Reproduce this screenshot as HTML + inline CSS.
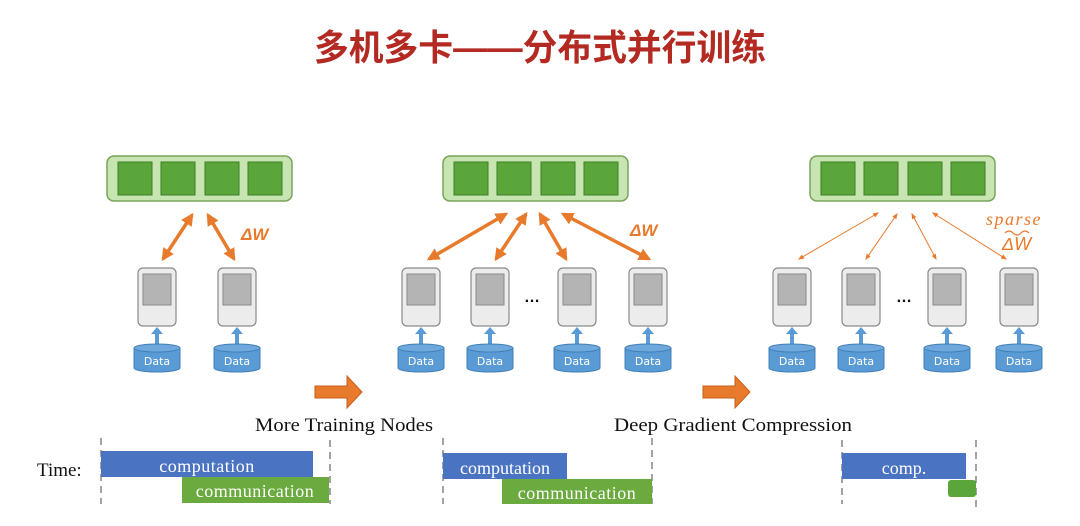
<!DOCTYPE html>
<html><head><meta charset="utf-8"><style>
html,body{margin:0;padding:0;background:#fff;width:1080px;height:526px;overflow:hidden}
svg{display:block}
.d{font-family:"DejaVu Sans","Liberation Sans",sans-serif;font-size:11px;fill:#fff}
.s{font-family:"Liberation Serif",serif;font-size:19px;fill:#111}
.w{font-family:"Liberation Serif",serif;font-size:18px;fill:#fff}
</style></head><body>
<svg width="1080" height="526" viewBox="0 0 1080 526" xmlns="http://www.w3.org/2000/svg">
<defs>
<marker id="ah" viewBox="0 0 10 10" refX="8" refY="5" markerWidth="3.6" markerHeight="3.6" orient="auto-start-reverse"><path d="M0,0L10,5L0,10z" fill="#e87a2c"/></marker>
<marker id="ah2" viewBox="0 0 10 10" refX="8" refY="5" markerWidth="6" markerHeight="6" orient="auto-start-reverse"><path d="M0,1L10,5L0,9z" fill="#e87a2c"/></marker>
<g id="bar">
<rect x="0" y="0" width="185" height="45" rx="7" fill="#c6e5b0" stroke="#7aa35c" stroke-width="1.5"/>
<rect x="11" y="6" width="34" height="33" fill="#5aa63a" stroke="#3e7d27"/>
<rect x="54" y="6" width="34" height="33" fill="#5aa63a" stroke="#3e7d27"/>
<rect x="98" y="6" width="34" height="33" fill="#5aa63a" stroke="#3e7d27"/>
<rect x="141" y="6" width="34" height="33" fill="#5aa63a" stroke="#3e7d27"/>
</g>
<g id="srv">
<rect x="-19" y="0" width="38" height="58" rx="5" fill="#ececec" stroke="#8a8a8a" stroke-width="1.2"/>
<rect x="-14" y="6" width="28" height="31" fill="#b4b4b4" stroke="#8a8a8a"/>
<path d="M0,76V62" stroke="#5b9bd5" stroke-width="4"/>
<path d="M-6,66L0,59L6,66z" fill="#5b9bd5"/>
<path d="M-23,80V100A23,4 0 0 0 23,100V80" fill="#5b9bd5" stroke="#3f7fb8"/>
<ellipse cx="0" cy="80" rx="23" ry="4" fill="#6fa8dc" stroke="#3f7fb8"/>
</g>
</defs>
<text x="540" y="60" text-anchor="middle" font-family="'Liberation Sans','Noto Sans CJK SC',sans-serif" font-weight="bold" font-size="36" fill="#b32a22" textLength="452" lengthAdjust="spacingAndGlyphs">多机多卡——分布式并行训练</text>

<use href="#bar" x="107" y="156"/>
<use href="#bar" x="443" y="156"/>
<use href="#bar" x="810" y="156"/>

<!-- panel1 -->
<use href="#srv" x="157" y="268"/><use href="#srv" x="237" y="268"/>
<text class="d" x="157" y="365" text-anchor="middle">Data</text>
<text class="d" x="237" y="365" text-anchor="middle">Data</text>
<g stroke="#e87a2c" stroke-width="3.5" marker-start="url(#ah)" marker-end="url(#ah)">
<line x1="192" y1="215" x2="163" y2="259"/><line x1="208" y1="215" x2="234" y2="259"/>
</g>
<text x="241" y="240" font-family="'Liberation Sans',sans-serif" font-weight="bold" font-style="italic" font-size="17" fill="#e87a2c">ΔW</text>

<!-- panel2 -->
<use href="#srv" x="421" y="268"/><use href="#srv" x="490" y="268"/><use href="#srv" x="577" y="268"/><use href="#srv" x="648" y="268"/>
<text class="d" x="421" y="365" text-anchor="middle">Data</text>
<text class="d" x="490" y="365" text-anchor="middle">Data</text>
<text class="d" x="577" y="365" text-anchor="middle">Data</text>
<text class="d" x="648" y="365" text-anchor="middle">Data</text>
<text x="532" y="302" text-anchor="middle" font-family="'Liberation Sans',sans-serif" font-weight="bold" font-size="16" fill="#111">…</text>
<g stroke="#e87a2c" stroke-width="3.5" marker-start="url(#ah)" marker-end="url(#ah)">
<line x1="506" y1="214" x2="429" y2="259"/><line x1="526" y1="214" x2="496" y2="259"/>
<line x1="540" y1="214" x2="566" y2="259"/><line x1="563" y1="214" x2="649" y2="259"/>
</g>
<text x="630" y="236" font-family="'Liberation Sans',sans-serif" font-weight="bold" font-style="italic" font-size="17" fill="#e87a2c">ΔW</text>

<!-- panel3 -->
<use href="#srv" x="792" y="268"/><use href="#srv" x="861" y="268"/><use href="#srv" x="947" y="268"/><use href="#srv" x="1019" y="268"/>
<text class="d" x="792" y="365" text-anchor="middle">Data</text>
<text class="d" x="861" y="365" text-anchor="middle">Data</text>
<text class="d" x="947" y="365" text-anchor="middle">Data</text>
<text class="d" x="1019" y="365" text-anchor="middle">Data</text>
<text x="904" y="302" text-anchor="middle" font-family="'Liberation Sans',sans-serif" font-weight="bold" font-size="16" fill="#111">…</text>
<g stroke="#e87a2c" stroke-width="1" marker-start="url(#ah2)" marker-end="url(#ah2)">
<line x1="878" y1="213" x2="799" y2="259"/><line x1="897" y1="214" x2="866" y2="259"/>
<line x1="912" y1="214" x2="936" y2="259"/><line x1="933" y1="213" x2="1006" y2="259"/>
</g>
<text x="986" y="225" font-family="'Liberation Serif',serif" font-style="italic" font-size="18" letter-spacing="1.5" fill="#e87a2c">sparse</text>
<text x="1002" y="250" font-family="'Liberation Sans',sans-serif" font-style="italic" font-size="18" fill="#e87a2c">ΔW</text>
<path d="M1005,233q4,-4 8,0t8,0t8,0" stroke="#e87a2c" fill="none" stroke-width="1.2"/>

<!-- big arrows -->
<path d="M315,386H347V376L362,392L347,408V398H315z" fill="#e87a2c" stroke="#c85f1a"/>
<path d="M703,386H735V376L750,392L735,408V398H703z" fill="#e87a2c" stroke="#c85f1a"/>

<text class="s" x="255" y="431" textLength="178" lengthAdjust="spacingAndGlyphs">More Training Nodes</text>
<text class="s" x="614" y="431" textLength="238" lengthAdjust="spacingAndGlyphs">Deep Gradient Compression</text>
<text class="s" x="37" y="476" font-size="19">Time:</text>

<g stroke="#666" stroke-width="1.2" stroke-dasharray="7,5">
<line x1="101" y1="438" x2="101" y2="504"/><line x1="330" y1="440" x2="330" y2="504"/>
<line x1="443" y1="438" x2="443" y2="504"/><line x1="652" y1="438" x2="652" y2="504"/>
<line x1="842" y1="440" x2="842" y2="504"/><line x1="976" y1="440" x2="976" y2="512"/>
</g>
<rect x="101" y="451" width="212" height="26" fill="#4a74c2"/>
<rect x="182" y="477" width="147" height="26" fill="#6aaa3e"/>
<text class="w" x="207" y="472" text-anchor="middle" letter-spacing="0.5">computation</text>
<text class="w" x="255" y="497" text-anchor="middle" letter-spacing="0.5">communication</text>
<rect x="443" y="453" width="124" height="26" fill="#4a74c2"/>
<rect x="502" y="479" width="150" height="25" fill="#6aaa3e"/>
<text class="w" x="505" y="474" text-anchor="middle">computation</text>
<text class="w" x="577" y="499" text-anchor="middle" letter-spacing="0.5">communication</text>
<rect x="842" y="453" width="124" height="26" fill="#4a74c2"/>
<text class="w" x="904" y="474" text-anchor="middle">comp.</text>
<rect x="948" y="480" width="28" height="17" rx="3" fill="#5aa63a"/>
</svg>
</body></html>
